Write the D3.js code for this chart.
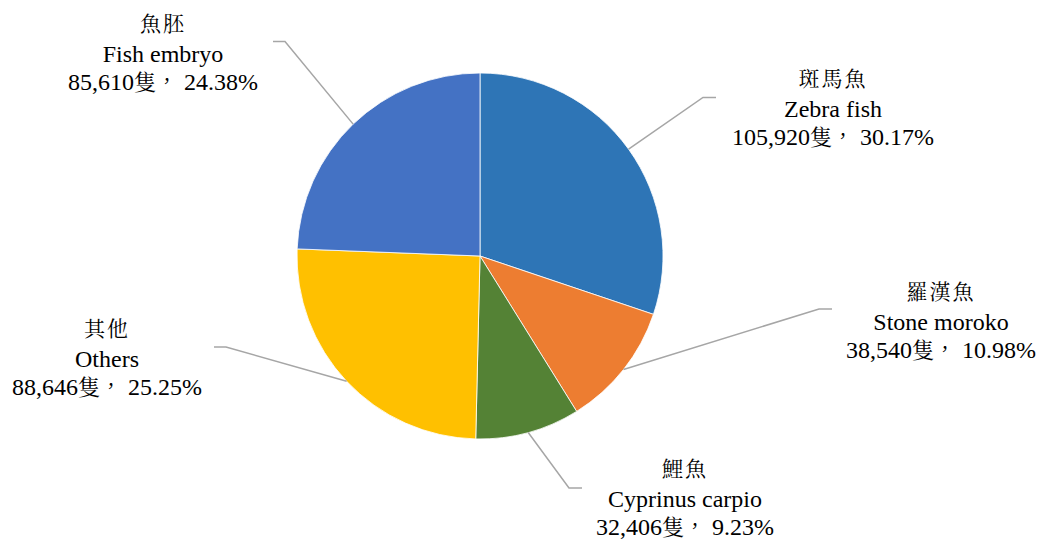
<!DOCTYPE html>
<html>
<head>
<meta charset="utf-8">
<script src="https://cdn.jsdelivr.net/npm/d3@7"></script>
<style>
  body { margin: 0; background: #fff; }
  svg { display: block; }
</style>
</head>
<body>
<div id="chart"></div>
<script>
// data
const namesZh = ['斑馬魚', '羅漢魚', '鯉魚', '其他', '魚胚'];
const namesEn = ['Zebra fish', 'Stone moroko', 'Cyprinus carpio', 'Others', 'Fish embryo'];
const counts = [105920, 38540, 32406, 88646, 85610];
const percents = ['30.17%', '10.98%', '9.23%', '25.25%', '24.38%'];
const colors = ['#2E75B6', '#ED7D31', '#548235', '#FFC000', '#4472C4'];

// label layout: text centre x, first baseline y, leader end x, leader y
const labelX = [833, 941, 685, 107, 163];
const labelY = [86, 299, 476, 336, 31];
const leaderEndX = [716, 832, 582, 214, 273];
const leaderY = [97.5, 309, 488, 347, 41.5];

const width = 1043, height = 540;
const cx = 480, cy = 256, radius = 183;
const serif = 'Liberation Serif';
const cjk = 'Noto Serif CJK TC';

let svg = d3.select('#chart').append('svg')
    .attr('width', width)
    .attr('height', height);

let pie = d3.pie().sort(null).value(function(d) { return d; });
let arcs = pie(counts);

let arc = d3.arc().innerRadius(0).outerRadius(radius);

let g = svg.append('g')
    .attr('transform', 'translate(' + cx + ',' + cy + ')');

g.selectAll('.slice')
    .data(arcs)
    .enter().append('path')
    .attr('class', 'slice')
    .attr('d', arc)
    .attr('fill', function(d, i) { return colors[i]; })
    .attr('stroke', '#fff')
    .attr('stroke-width', 0.8);

// leader lines
svg.selectAll('.leader')
    .data(arcs)
    .enter().append('polyline')
    .attr('class', 'leader')
    .attr('fill', 'none')
    .attr('stroke', '#A6A6A6')
    .attr('stroke-width', 1.5)
    .attr('points', function(d, i) {
        let a = (d.startAngle + d.endAngle) / 2;
        let px = cx + radius * Math.sin(a);
        let py = cy - radius * Math.cos(a);
        let right = leaderEndX[i] > cx;
        let ex = leaderEndX[i] + (right ? -13 : 12);
        return [[px, py], [ex, leaderY[i]], [leaderEndX[i], leaderY[i]]].join(' ');
    });

// labels
let fmt = d3.format(',');
let labels = svg.selectAll('.lbl')
    .data(arcs)
    .enter().append('text')
    .attr('class', 'lbl')
    .attr('text-anchor', 'middle')
    .attr('fill', '#000')
    .attr('font-family', serif)
    .attr('font-size', 24);

labels.append('tspan')
    .attr('x', function(d, i) { return labelX[i]; })
    .attr('y', function(d, i) { return labelY[i]; })
    .attr('font-family', cjk)
    .attr('font-size', 21)
    .attr('letter-spacing', 2)
    .text(function(d, i) { return namesZh[i]; });

labels.append('tspan')
    .attr('x', function(d, i) { return labelX[i]; })
    .attr('y', function(d, i) { return labelY[i] + 31; })
    .attr('font-family', serif)
    .text(function(d, i) { return namesEn[i]; });

// number line: serif digits, CJK unit and comma
let numLine = labels.append('tspan')
    .attr('x', function(d, i) { return labelX[i]; })
    .attr('y', function(d, i) { return labelY[i] + 59; })
    .attr('font-family', serif);
numLine.append('tspan').text(function(d, i) { return fmt(counts[i]); });
numLine.append('tspan').attr('font-family', cjk).attr('font-size', 22).text('隻，');
numLine.append('tspan').text(function(d, i) { return ' ' + percents[i]; });
</script>
</body>
</html>
